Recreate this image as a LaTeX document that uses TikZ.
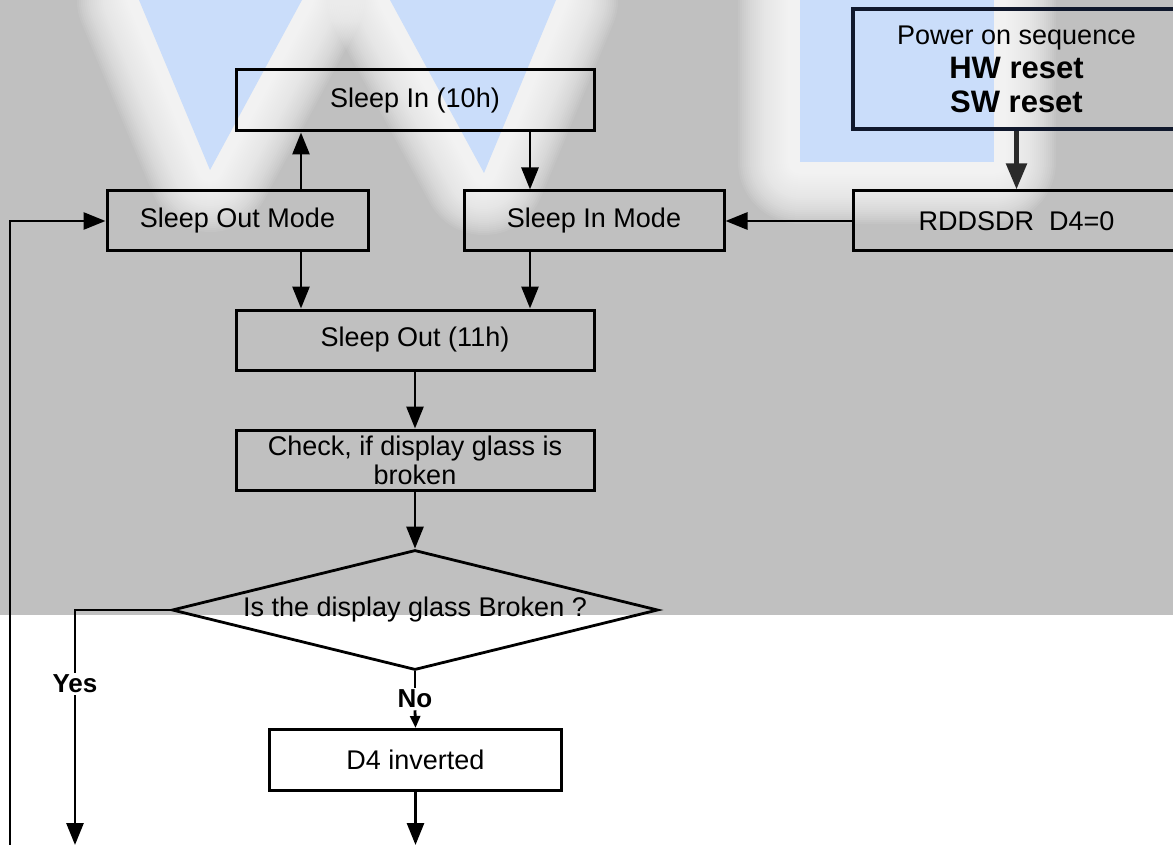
\documentclass[tikz,border=0pt]{standalone}
\usepackage{fontspec}
\setmainfont{Liberation Sans}
\usetikzlibrary{arrows.meta,shapes.geometric,calc}
\definecolor{bggray}{RGB}{192,192,192}
\definecolor{wmblue}{RGB}{202,221,250}
\definecolor{pwrline}{RGB}{16,24,44}
\definecolor{darkarrow}{RGB}{42,42,42}
\begin{document}
\begin{tikzpicture}[x=1pt,y=-1pt,
  box/.style={draw=black, line width=3pt, inner sep=0pt, font=\fontsize{27}{29}\selectfont, align=center},
  conn/.style={draw=black, line width=2.8pt},
  arr/.style={conn, -{Triangle[length=22pt,width=17pt]}},
  smallarr/.style={conn, -{Triangle[length=12pt,width=10pt]}},
  bigarr/.style={draw=darkarrow, line width=5pt, -{Triangle[length=26pt,width=20pt]}},
  lbl/.style={font=\fontsize{26}{30}\selectfont\bfseries, inner sep=2pt},
  glow/.style={white, opacity=0.075, line join=round}
]
\useasboundingbox (0,0) rectangle (1173,845);
\clip (0,0) rectangle (1173,845);
% background
\fill[white] (0,0) rectangle (1173,845);
\fill[bggray] (0,0) rectangle (1173,615);
% watermark glow
\foreach \w in {4,8,...,124} {
  \draw[glow, line width=\w pt] (139,0) -- (210,170) -- (302,0) -- cycle;
  \draw[glow, line width=\w pt] (390,0) -- (484,173) -- (556,0) -- cycle;
  \draw[glow, line width=\w pt] (800,0) rectangle (994,162);
}
% watermark
\fill[wmblue] (139,0) -- (210,170) -- (302,0) -- cycle;
\fill[wmblue] (390,0) -- (484,173) -- (556,0) -- cycle;
\fill[wmblue] (800,0) rectangle (994,162);

% nodes
\node[box, minimum width=358pt, minimum height=61pt] (sin10) at (415,100.5) {Sleep In (10h)};
\node[box, minimum width=261pt, minimum height=60pt] (som) at (237.5,221) {Sleep Out Mode};
\node[box, minimum width=260pt, minimum height=60pt] (sim) at (594,221) {Sleep In Mode};
\node[box, minimum width=327pt, minimum height=60pt] (rdd) at (1016.5,221) {RDDSDR\ \ D4=0};
\node[box, draw=pwrline, line width=4pt, minimum width=327pt, minimum height=120pt,
      font=\fontsize{27}{34}\selectfont] (pwr) at (1016.5,69)
  {Power on sequence\\{\fontsize{31}{34}\selectfont\bfseries HW reset}\\{\fontsize{31}{34}\selectfont\bfseries SW reset}};
\node[box, minimum width=358pt, minimum height=60pt] (so11) at (415,340) {Sleep Out (11h)};
\node[box, minimum width=358pt, minimum height=60pt] (chk) at (415,460) {Check, if display glass is\\broken};
\node[diamond, draw=black, line width=2.8pt, aspect=4.06, minimum width=486pt, minimum height=120pt,
      inner sep=0pt, font=\fontsize{27}{29}\selectfont] (dia) at (415,610) {Is the display glass Broken ?};
\node[box, minimum width=292pt, minimum height=61pt] (d4) at (415.5,760) {D4 inverted};
\node[lbl] (yes) at (75,684) {Yes};
\node[lbl] (no) at (415,699) {No};

\coordinate (c1) at (301,0);
\coordinate (c2) at (530,0);
\coordinate (yesend) at (75,845);
\coordinate (noend) at (415.5,845);
\coordinate (loopstart) at (10,845);

% connectors
\draw[arr] (som.north -| c1) -- (sin10.south -| c1);
\draw[arr] (sin10.south -| c2) -- (sim.north -| c2);
\draw[arr] (som.south -| c1) -- (so11.north -| c1);
\draw[arr] (sim.south -| c2) -- (so11.north -| c2);
\draw[arr] (rdd.west) -- (sim.east);
\draw[bigarr] (pwr.south) -- (rdd.north);
\draw[arr] (so11.south) -- (chk.north);
\draw[arr] (chk.south) -- (dia.north);
\draw[conn] (dia.south) -- (no.north);
\draw[smallarr] (no.south) -- (d4.north);
\draw[conn] (dia.west) -| (yes.north);
\draw[arr] (yes.south) -- (yesend);
\draw[arr] (d4.south) -- (noend);
\draw[arr] (loopstart) |- (som.west);
\end{tikzpicture}
\end{document}
